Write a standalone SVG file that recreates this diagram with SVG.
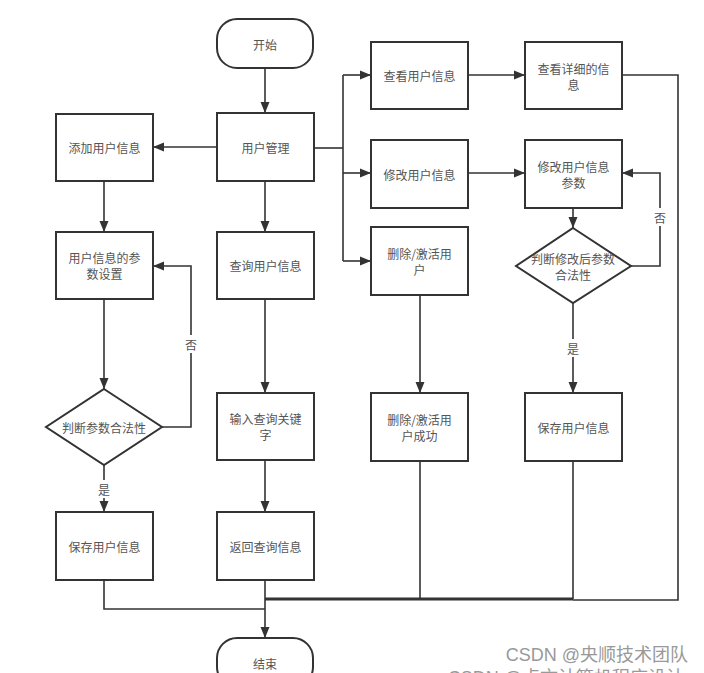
<svg xmlns="http://www.w3.org/2000/svg" width="704" height="673" viewBox="0 0 704 673">
<defs>
<marker id="arr" markerUnits="userSpaceOnUse" markerWidth="12" markerHeight="10" refX="11" refY="5" orient="auto">
<path d="M0,0.5 L11,5 L0,9.5 Z" fill="#333"/>
</marker>
<style>
.box{fill:#fff;stroke:#333;stroke-width:2}
.t{font-family:"Noto Sans CJK SC","Liberation Sans",sans-serif;font-size:12px;fill:#555;text-anchor:middle;dominant-baseline:central}
.c{fill:none;stroke:#333;stroke-width:1.6}
.lbl{font-family:"Noto Sans CJK SC","Liberation Sans",sans-serif;font-size:12px;fill:#555;text-anchor:middle;dominant-baseline:central}
.wm{font-family:"Liberation Sans","Noto Sans CJK SC",sans-serif;font-size:18px;fill:#999;text-anchor:end}
</style>
</defs>
<rect width="704" height="673" fill="#fff"/>
<g id="connectors">
<path class="c" d="M265,68 V113" marker-end="url(#arr)"/>
<path class="c" d="M217,147 H153" marker-end="url(#arr)"/>
<path class="c" d="M265,181 V232" marker-end="url(#arr)"/>
<path class="c" d="M314,148 H343"/>
<path class="c" d="M343,75 V261"/>
<path class="c" d="M343,75 H371" marker-end="url(#arr)"/>
<path class="c" d="M343,173 H371" marker-end="url(#arr)"/>
<path class="c" d="M343,261 H371" marker-end="url(#arr)"/>
<path class="c" d="M468,75 H525" marker-end="url(#arr)"/>
<path class="c" d="M622,75 H678 V600 H573"/>
<path class="c" d="M468,173 H525" marker-end="url(#arr)"/>
<path class="c" d="M573,208 V228" marker-end="url(#arr)"/>
<path class="c" d="M631,266 H660 V173 H622" marker-end="url(#arr)"/>
<path class="c" d="M573,303 V393" marker-end="url(#arr)"/>
<path class="c" d="M420,295 V393" marker-end="url(#arr)"/>
<path class="c" d="M420,461 V599"/>
<path class="c" d="M573,461 V599"/>
<path class="c" d="M573,599 H265" style="stroke-width:3"/>
<path class="c" d="M104,181 V232" marker-end="url(#arr)"/>
<path class="c" d="M104,299 V389" marker-end="url(#arr)"/>
<path class="c" d="M162,427 H191 V266 H153" marker-end="url(#arr)"/>
<path class="c" d="M104,465 V512" marker-end="url(#arr)"/>
<path class="c" d="M265,299 V393" marker-end="url(#arr)"/>
<path class="c" d="M265,460 V512" marker-end="url(#arr)"/>
<path class="c" d="M265,580 V638" marker-end="url(#arr)"/>
<path class="c" d="M104,580 V609 H265"/>
<rect x="652" y="208" width="16" height="18" fill="#fff"/>
<text class="lbl" x="660" y="217">否</text>
<rect x="565" y="339" width="16" height="18" fill="#fff"/>
<text class="lbl" x="573" y="348">是</text>
<rect x="183" y="335" width="16" height="18" fill="#fff"/>
<text class="lbl" x="191" y="344">否</text>
<rect x="96" y="480" width="16" height="18" fill="#fff"/>
<text class="lbl" x="104" y="489">是</text>
</g>
<g id="start"><rect class="box" x="217" y="19" width="96" height="49" rx="20"/><text class="t" x="265" y="44">开始</text></g>
<g id="user-mgmt"><rect class="box" x="217" y="113" width="97" height="68"/><text class="t" x="265.5" y="147">用户管理</text></g>
<g id="add-user"><rect class="box" x="56" y="114" width="97" height="67"/><text class="t" x="104.5" y="147.5">添加用户信息</text></g>
<g id="param-set"><rect class="box" x="56" y="232" width="97" height="67"/><text class="t" x="104.5" y="257">用户信息的参</text><text class="t" x="104.5" y="273">数设置</text></g>
<g id="query-user"><rect class="box" x="217" y="232" width="97" height="67"/><text class="t" x="265.5" y="265.5">查询用户信息</text></g>
<g id="check-param"><polygon class="box" points="104,389 162,427 104,465 46,427"/><text class="t" x="104" y="427">判断参数合法性</text></g>
<g id="input-key"><rect class="box" x="217" y="393" width="97" height="67"/><text class="t" x="265.5" y="418">输入查询关键</text><text class="t" x="265.5" y="434">字</text></g>
<g id="save-left"><rect class="box" x="56" y="512" width="97" height="68"/><text class="t" x="104.5" y="546">保存用户信息</text></g>
<g id="return-query"><rect class="box" x="217" y="512" width="97" height="68"/><text class="t" x="265.5" y="546">返回查询信息</text></g>
<g id="view-user"><rect class="box" x="371" y="42" width="97" height="67"/><text class="t" x="419.5" y="75.5">查看用户信息</text></g>
<g id="view-detail"><rect class="box" x="525" y="42" width="97" height="67"/><text class="t" x="573.5" y="68">查看详细的信</text><text class="t" x="573.5" y="84">息</text></g>
<g id="edit-user"><rect class="box" x="371" y="140" width="97" height="68"/><text class="t" x="419.5" y="174">修改用户信息</text></g>
<g id="edit-param"><rect class="box" x="525" y="140" width="97" height="68"/><text class="t" x="573.5" y="166">修改用户信息</text><text class="t" x="573.5" y="182">参数</text></g>
<g id="del-user"><rect class="box" x="371" y="227" width="97" height="68"/><text class="t" x="419.5" y="253">删除/激活用</text><text class="t" x="419.5" y="269">户</text></g>
<g id="check-edit"><polygon class="box" points="573,228 631,266 573,303 516,266"/><text class="t" x="573" y="258">判断修改后参数</text><text class="t" x="573" y="274">合法性</text></g>
<g id="del-ok"><rect class="box" x="371" y="393" width="97" height="68"/><text class="t" x="419.5" y="419">删除/激活用</text><text class="t" x="419.5" y="435">户成功</text></g>
<g id="save-right"><rect class="box" x="525" y="393" width="97" height="68"/><text class="t" x="573.5" y="427">保存用户信息</text></g>
<g id="end"><rect class="box" x="217" y="638" width="96" height="49" rx="20"/><text class="t" x="265" y="663">结束</text></g>
<g id="watermark">
<text class="wm" x="688" y="661">CSDN @央顺技术团队</text>
<text class="wm" x="684" y="684">CSDN @点文计算机程序设计</text>
</g>
</svg>
